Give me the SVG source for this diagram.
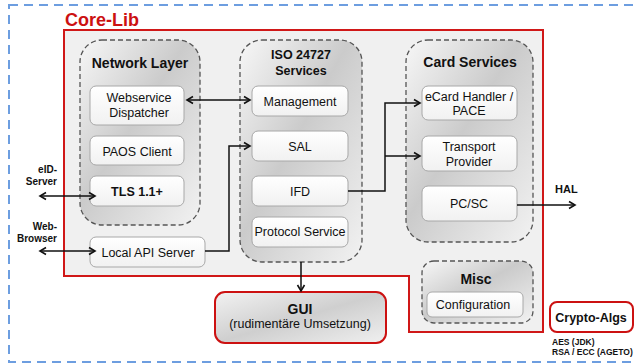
<svg xmlns="http://www.w3.org/2000/svg" width="635" height="364" viewBox="0 0 635 364">
  <defs>
    <linearGradient id="groupFill" x1="0" y1="0" x2="1" y2="1">
      <stop offset="0" stop-color="#f7f7f7"/>
      <stop offset="0.45" stop-color="#cbcbcb"/>
      <stop offset="1" stop-color="#f2f2f2"/>
    </linearGradient>
    <linearGradient id="boxFill" x1="0" y1="0" x2="0" y2="1">
      <stop offset="0" stop-color="#ffffff"/>
      <stop offset="1" stop-color="#f1f1f1"/>
    </linearGradient>
    <linearGradient id="guiFill" x1="0" y1="0" x2="1" y2="1">
      <stop offset="0" stop-color="#f2f2f2"/>
      <stop offset="0.5" stop-color="#cfcfcf"/>
      <stop offset="1" stop-color="#f0f0f0"/>
    </linearGradient>
    <marker id="arrow" markerWidth="10" markerHeight="10" refX="8" refY="5" orient="auto-start-reverse" markerUnits="userSpaceOnUse">
      <polyline points="2,1.5 8,5 2,8.5" fill="none" stroke="#111" stroke-width="1.6"/>
    </marker>
    <style>
      .group { fill: url(#groupFill); stroke: #555; stroke-width: 1.3; stroke-dasharray: 5 3; }
      .box { fill: url(#boxFill); stroke: #a8a8a8; stroke-width: 1; }
      .title { font-family: "Liberation Sans", Arial, sans-serif; font-weight: bold; font-size: 14px; fill: #111; text-anchor: middle; }
      .label { font-family: "Liberation Sans", Arial, sans-serif; font-size: 12.5px; fill: #111; text-anchor: middle; }
      .blabel { font-family: "Liberation Sans", Arial, sans-serif; font-weight: bold; font-size: 12.5px; fill: #111; text-anchor: middle; }
      .side { font-family: "Liberation Sans", Arial, sans-serif; font-weight: bold; font-size: 10px; fill: #111; text-anchor: end; }
      .conn { fill: none; stroke: #111; stroke-width: 1.5; }
    </style>
  </defs>

  <rect width="635" height="364" fill="#ffffff"/>

  <!-- outer application boundary -->
  <rect id="boundary" x="9" y="5" width="650" height="357" fill="none" stroke="#6d9ee0" stroke-width="2" stroke-dasharray="9 6"/>

  <!-- Core-Lib container -->
  <g id="core-lib">
    <path d="M64,30 H543 V332 H409 V276 H64 Z" fill="#f0f0f0" stroke="#d01818" stroke-width="2"/>
    <text x="65" y="26" font-family="'Liberation Sans', Arial, sans-serif" font-weight="bold" font-size="18" fill="#cc1111">Core-Lib</text>
  </g>

  <!-- Network Layer -->
  <g id="network-layer">
    <rect class="group" x="80" y="40" width="120" height="185" rx="22"/>
    <text class="title" x="140" y="68">Network Layer</text>
  </g>
  <g id="webservice-dispatcher">
    <rect class="box" x="90" y="86" width="94" height="39" rx="6"/>
    <text class="label" x="139" y="102">Webservice</text>
    <text class="label" x="139" y="117">Dispatcher</text>
  </g>
  <g id="paos-client">
    <rect class="box" x="90" y="136" width="94" height="29" rx="6"/>
    <text class="label" x="137" y="156">PAOS Client</text>
  </g>
  <g id="tls">
    <rect class="box" x="90" y="176" width="94" height="30" rx="6"/>
    <text class="blabel" x="137" y="196">TLS 1.1+</text>
  </g>
  <g id="local-api-server">
    <rect class="box" x="90" y="237" width="115" height="30" rx="6"/>
    <text class="label" x="148" y="257">Local API Server</text>
  </g>

  <!-- ISO 24727 Services -->
  <g id="iso-services">
    <rect class="group" x="240" y="40" width="122" height="222" rx="22"/>
    <text class="blabel" x="301" y="59" font-size="13">ISO 24727</text>
    <text class="blabel" x="301" y="75" font-size="13">Services</text>
  </g>
  <g id="management">
    <rect class="box" x="252" y="86" width="96" height="30" rx="6"/>
    <text class="label" x="300" y="106">Management</text>
  </g>
  <g id="sal">
    <rect class="box" x="252" y="131" width="96" height="30" rx="6"/>
    <text class="label" x="300" y="151">SAL</text>
  </g>
  <g id="ifd">
    <rect class="box" x="252" y="176" width="96" height="30" rx="6"/>
    <text class="label" x="300" y="196">IFD</text>
  </g>
  <g id="protocol-service">
    <rect class="box" x="252" y="217" width="96" height="30" rx="6"/>
    <text class="label" x="300" y="236" font-size="11.5">Protocol Service</text>
  </g>

  <!-- Card Services -->
  <g id="card-services">
    <rect class="group" x="406" y="40" width="127" height="202" rx="22"/>
    <text class="title" x="470" y="67">Card Services</text>
  </g>
  <g id="ecard-handler">
    <rect class="box" x="422" y="86" width="95" height="34" rx="6"/>
    <text class="label" x="469" y="101" font-size="12">eCard Handler /</text>
    <text class="label" x="469" y="115" font-size="12">PACE</text>
  </g>
  <g id="transport-provider">
    <rect class="box" x="422" y="136" width="95" height="35" rx="6"/>
    <text class="label" x="469" y="151">Transport</text>
    <text class="label" x="469" y="166">Provider</text>
  </g>
  <g id="pcsc">
    <rect class="box" x="422" y="186" width="95" height="35" rx="6"/>
    <text class="label" x="469" y="208">PC/SC</text>
  </g>

  <!-- Misc -->
  <g id="misc">
    <rect class="group" x="422" y="261" width="111" height="62" rx="12"/>
    <text class="title" x="476" y="284" font-size="13">Misc</text>
  </g>
  <g id="configuration">
    <rect class="box" x="427" y="292" width="96" height="25" rx="5"/>
    <text class="label" x="473" y="309" font-size="11.5">Configuration</text>
  </g>

  <!-- GUI -->
  <g id="gui">
    <rect x="215" y="292" width="171" height="51" rx="10" fill="url(#guiFill)" stroke="#cc1111" stroke-width="2"/>
    <text class="title" x="300" y="314" font-size="15">GUI</text>
    <text class="label" x="300" y="328">(rudimentäre Umsetzung)</text>
  </g>

  <!-- Crypto-Algs -->
  <g id="crypto-algs">
    <rect x="550" y="302" width="83" height="30" rx="7" fill="#ffffff" stroke="#cc1111" stroke-width="2"/>
    <text class="blabel" x="591" y="322" font-size="13">Crypto-Algs</text>
    <text x="552" y="345" font-family="'Liberation Sans', Arial, sans-serif" font-weight="bold" font-size="8.5" fill="#111">AES (JDK)</text>
    <text x="552" y="355" font-family="'Liberation Sans', Arial, sans-serif" font-weight="bold" font-size="8.5" fill="#111">RSA / ECC (AGETO)</text>
  </g>

  <!-- external endpoints -->
  <g id="eid-server">
    <text class="side" x="57" y="173">eID-</text>
    <text class="side" x="57" y="185">Server</text>
  </g>
  <g id="web-browser">
    <text class="side" x="57" y="230">Web-</text>
    <text class="side" x="57" y="242">Browser</text>
  </g>
  <g id="hal">
    <text x="555" y="193" font-family="'Liberation Sans', Arial, sans-serif" font-weight="bold" font-size="11" fill="#111">HAL</text>
  </g>

  <!-- connectors -->
  <g id="connectors">
    <line class="conn" x1="187" y1="100" x2="250" y2="100" marker-start="url(#arrow)" marker-end="url(#arrow)"/>
    <polyline class="conn" points="205,251 229,251 229,146 250,146" marker-end="url(#arrow)"/>
    <polyline class="conn" points="348,191 385,191 385,103 420,103" marker-end="url(#arrow)"/>
    <line class="conn" x1="385" y1="156" x2="420" y2="156" marker-end="url(#arrow)"/>
    <line class="conn" x1="517" y1="205" x2="575" y2="205" marker-end="url(#arrow)"/>
    <line class="conn" x1="40" y1="196" x2="95" y2="196" marker-start="url(#arrow)" marker-end="url(#arrow)"/>
    <line class="conn" x1="40" y1="251" x2="95" y2="251" marker-start="url(#arrow)" marker-end="url(#arrow)"/>
    <line class="conn" x1="301" y1="262" x2="301" y2="291" marker-end="url(#arrow)"/>
  </g>
</svg>
